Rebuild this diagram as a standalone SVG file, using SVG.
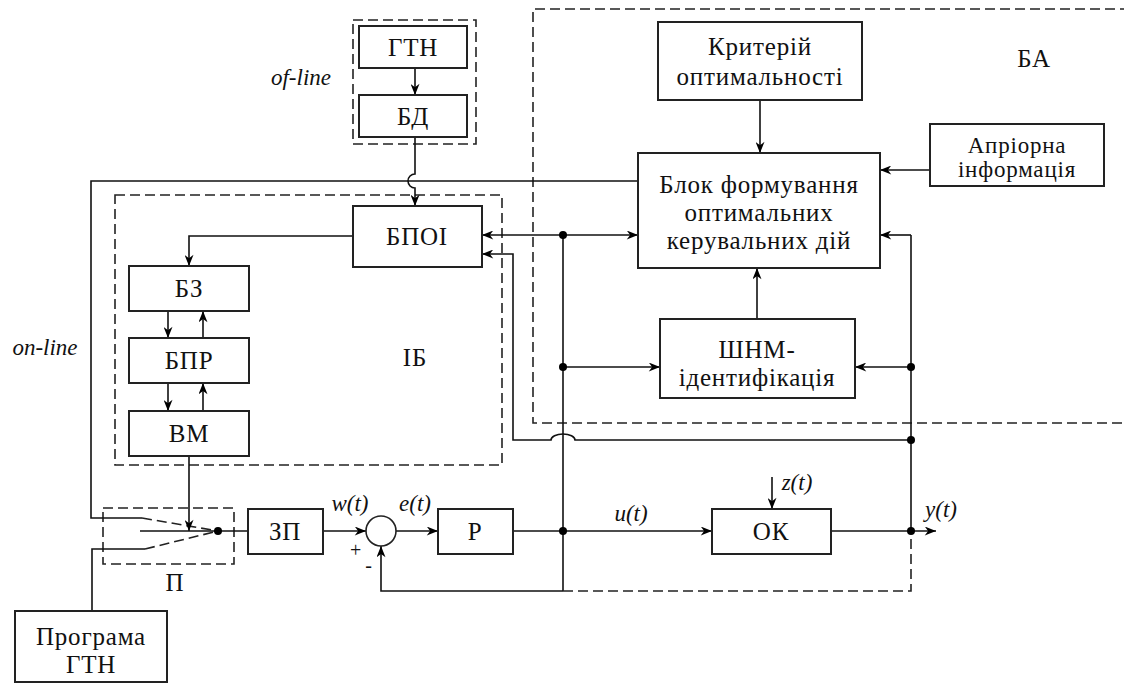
<svg xmlns="http://www.w3.org/2000/svg" width="1124" height="684" viewBox="0 0 1124 684">
<style>
.box{fill:#fff;stroke:#222;stroke-width:2}
.dash{fill:none;stroke:#222;stroke-width:1.6;stroke-dasharray:10,5}
.ln{fill:none;stroke:#111;stroke-width:1.6}
.arr{marker-end:url(#ah)}
text{font-family:"Liberation Serif","Times New Roman","DejaVu Serif",serif}
.t{font-size:25px;fill:#111;text-anchor:middle;letter-spacing:0.8px}
.it{font-size:23px;font-style:italic;fill:#111;text-anchor:middle}
.dot{fill:#000}
</style>
<defs>
<marker id="ah" viewBox="0 0 10 8" refX="10" refY="4" markerWidth="12" markerHeight="9" orient="auto" markerUnits="userSpaceOnUse">
<path d="M0,0 L10,4 L0,8 L3,4 z" fill="#000"/>
</marker>
</defs>
<rect width="1124" height="684" fill="#fff"/>
<g id="frames">
<rect class="dash" x="353" y="20" width="123" height="124"/>
<rect class="dash" x="115" y="195" width="387" height="270"/>
<path class="dash" d="M1130,9 H533 V423 H1130"/>
<rect class="dash" x="103" y="508" width="131" height="56"/>
<text class="it" x="301" y="85">of-line</text>
<text class="it" x="45" y="355">on-line</text>
<text class="t" x="415" y="366">ІБ</text>
<text class="t" x="1034" y="67">БА</text>
<text class="t" x="175" y="591">П</text>
</g>
<g id="connectors">
<path class="ln arr" d="M415,68 V95"/>
<path class="ln arr" d="M415,137 V174 A7,7 0 0 0 415,188 V206"/>
<path class="ln" d="M638,181 H91 V518 H142"/>
<path class="dash" d="M142,518 L218,531"/>
<path class="ln" d="M92,611 V549 H145"/>
<path class="dash" d="M145,549 L218,531"/>
<path class="ln" d="M140,531 H248"/>
<path class="ln arr" d="M189,456 V531"/>
<path class="ln arr" d="M353,236 H189 V266"/>
<path class="ln arr" d="M168,311 V338"/>
<path class="ln arr" d="M203,338 V311"/>
<path class="ln arr" d="M168,383 V411"/>
<path class="ln arr" d="M203,411 V383"/>
<path class="ln arr" d="M323,531 H366"/>
<path class="ln arr" d="M396,531 H438"/>
<path class="ln arr" d="M513,531 H712"/>
<path class="ln arr" d="M831,531 H936"/>
<path class="ln arr" d="M772,477 V509"/>
<path class="ln arr" d="M563,591 H381 V546"/>
<path class="ln" d="M563,235 V591"/>
<path class="dash" d="M563,591 H911 V531"/>
<path class="ln arr" d="M563,235 H482"/>
<path class="ln arr" d="M563,235 H638"/>
<path class="ln arr" d="M563,367 H660"/>
<path class="ln" d="M911,235 V531"/>
<path class="ln arr" d="M911,235 H880"/>
<path class="ln arr" d="M911,367 H855"/>
<path class="ln arr" d="M911,440 H575 A12,6 0 0 0 551,440 H513 V254 H482"/>
<path class="ln arr" d="M760,100 V153"/>
<path class="ln arr" d="M930,170 H880"/>
<path class="ln arr" d="M757,319 V268"/>
<circle class="dot" cx="218" cy="531" r="4"/>
<circle class="dot" cx="563" cy="235" r="4"/>
<circle class="dot" cx="563" cy="367" r="4"/>
<circle class="dot" cx="563" cy="531" r="4"/>
<circle class="dot" cx="911" cy="367" r="4"/>
<circle class="dot" cx="911" cy="440" r="4"/>
<circle class="dot" cx="911" cy="531" r="4"/>
<text class="it" x="350" y="511">w(t)</text>
<text class="it" x="415" y="511">e(t)</text>
<text class="it" x="631" y="521">u(t)</text>
<text class="it" x="797" y="490">z(t)</text>
<text class="it" x="941" y="517">y(t)</text>
<text class="t" x="356" y="557" style="font-size:20px">+</text>
<text class="t" x="369" y="572" style="font-size:20px">-</text>
</g>
<g id="gtn"><rect class="box" x="359" y="26" width="108" height="42"/><text class="t" x="413" y="56">ГТН</text></g>
<g id="bd"><rect class="box" x="359" y="95" width="108" height="42"/><text class="t" x="413" y="125">БД</text></g>
<g id="bpoi"><rect class="box" x="353" y="206" width="129" height="61"/><text class="t" x="417" y="245">БПОІ</text></g>
<g id="bz"><rect class="box" x="129" y="266" width="120" height="45"/><text class="t" x="189" y="297">БЗ</text></g>
<g id="bpr"><rect class="box" x="129" y="338" width="120" height="45"/><text class="t" x="189" y="369">БПР</text></g>
<g id="vm"><rect class="box" x="129" y="411" width="120" height="45"/><text class="t" x="189" y="442">ВМ</text></g>
<g id="zp"><rect class="box" x="248" y="509" width="75" height="45"/><text class="t" x="285" y="540">ЗП</text></g>
<g id="sum"><circle cx="381" cy="531" r="15" fill="#fff" stroke="#222" stroke-width="1.6"/></g>
<g id="r"><rect class="box" x="438" y="509" width="75" height="45"/><text class="t" x="475" y="540">Р</text></g>
<g id="ok"><rect class="box" x="712" y="509" width="119" height="45"/><text class="t" x="771" y="540">ОК</text></g>
<g id="kryterii"><rect class="box" x="658" y="22" width="204" height="78"/><text class="t" x="760" y="55">Критерій</text><text class="t" x="760" y="85">оптимальності</text></g>
<g id="blok"><rect class="box" x="638" y="153" width="242" height="115"/><text class="t" x="759" y="193">Блок формування</text><text class="t" x="759" y="221">оптимальних</text><text class="t" x="759" y="249">керувальних дій</text></g>
<g id="apriorna"><rect class="box" x="930" y="124" width="174" height="62"/><text class="t" x="1017" y="153" style="font-size:23px">Апріорна</text><text class="t" x="1017" y="177" style="font-size:23px">інформація</text></g>
<g id="shnm"><rect class="box" x="660" y="319" width="195" height="79"/><text class="t" x="757" y="358">ШНМ-</text><text class="t" x="757" y="386">ідентифікація</text></g>
<g id="programa"><rect class="box" x="15" y="611" width="152" height="71"/><text class="t" x="91" y="645">Програма</text><text class="t" x="91" y="673">ГТН</text></g>
</svg>
